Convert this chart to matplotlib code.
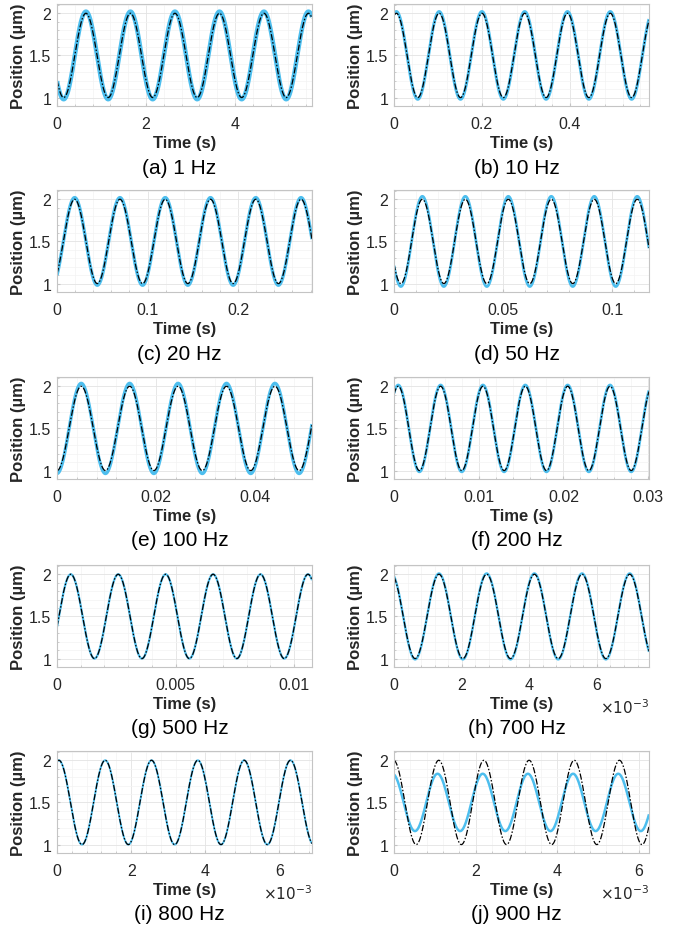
import numpy as np
import matplotlib
matplotlib.use("Agg")
import matplotlib.pyplot as plt
from matplotlib.ticker import FixedLocator, AutoMinorLocator, FuncFormatter

plt.rcParams['font.family'] = ['Liberation Sans', 'DejaVu Sans']

# panel captions and readings from the picture
captions = ['(a) 1 Hz', '(b) 10 Hz', '(c) 20 Hz', '(d) 50 Hz', '(e) 100 Hz',
            '(f) 200 Hz', '(g) 500 Hz', '(h) 700 Hz', '(i) 800 Hz', '(j) 900 Hz']
periods = [1.0, 0.0973, 0.05, 0.0197, 0.0098, 0.005, 0.002, 1.41e-3, 1.25e-3, 1.107e-3]
first_peak = [0.65, 0.0054, 0.0195, 0.013, 0.0049, 0.0005, 0.00058, -0.08e-3, 0.05e-3, -0.01e-3]
x_max = [5.73, 0.58, 0.2816, 0.1169, 0.0516, 0.0301, 0.01075, 7.54e-3, 6.88e-3, 6.25e-3]
x_ticks = [[0, 2, 4], [0, 0.2, 0.4], [0, 0.1, 0.2], [0, 0.05, 0.1], [0, 0.02, 0.04],
           [0, 0.01, 0.02, 0.03], [0, 0.005, 0.01],
           [0, 2e-3, 4e-3, 6e-3], [0, 2e-3, 4e-3, 6e-3], [0, 2e-3, 4e-3, 6e-3]]
sci_axis = [False] * 7 + [True] * 3

# commanded position: 1..2 um; measured amplitude and phase shift (s)
ref_mean, ref_amp = 1.5, 0.5
meas_amp = [0.52, 0.52, 0.52, 0.535, 0.535, 0.515, 0.5, 0.51, 0.5, 0.34]
meas_shift = [0, 0, 0, 0, 0, 0, 0, 0, 0, -0.03e-3]
meas_lw = [3.2, 2.2, 2.4, 2.0, 2.4, 2.0, 1.6, 1.7, 1.4, 1.8]

blue = '#4DBEEE'
fig = plt.figure(figsize=(6.88, 9.29), dpi=100)
W, H = 688, 929
lefts = [57, 394]
tops = [5, 191, 378, 566, 752]
aw, ah = 255, 102

for k in range(10):
    r, c = divmod(k, 2)
    ax = fig.add_axes([lefts[c] / W, 1 - (tops[r] + ah) / H, aw / W, ah / H])
    t = np.linspace(0, x_max[k], 1500)
    ref = ref_mean + ref_amp * np.cos(2 * np.pi * (t - first_peak[k]) / periods[k])
    meas = ref_mean + meas_amp[k] * np.cos(2 * np.pi * (t - first_peak[k] - meas_shift[k]) / periods[k])
    ax.plot(t, meas, color=blue, lw=meas_lw[k], solid_capstyle='butt')
    ax.plot(t, ref, color='black', lw=0.9, linestyle=(0, (5, 1.5, 1.2, 1.5)))
    ax.set_xlim(0, x_max[k])
    ax.set_ylim(0.9, 2.11)
    ax.yaxis.set_major_locator(FixedLocator([1, 1.5, 2]))
    ax.yaxis.set_major_formatter(FuncFormatter(lambda v, p: '%g' % v))
    ax.xaxis.set_major_locator(FixedLocator(x_ticks[k]))
    ax.xaxis.set_minor_locator(AutoMinorLocator(5))
    ax.yaxis.set_minor_locator(AutoMinorLocator(5))
    if sci_axis[k]:
        ax.xaxis.set_major_formatter(FuncFormatter(lambda v, p: '%g' % round(v * 1e3, 6)))
        ax.text(1.0, -0.39, r'$\times10^{-3}$', transform=ax.transAxes, ha='right',
                va='center', fontsize=11, color='#262626')
    else:
        ax.xaxis.set_major_formatter(FuncFormatter(lambda v, p: '%g' % v))
    ax.grid(True, which='major', color='#e3e3e3', lw=0.6)
    ax.grid(True, which='minor', color='#f3f3f3', lw=0.5)
    ax.set_axisbelow(True)
    for s in ax.spines.values():
        s.set_color('#c4c4c4')
        s.set_linewidth(0.8)
    ax.tick_params(which='both', direction='in', colors='#c4c4c4', labelcolor='#262626',
                   labelsize=11.5, length=2.5)
    ax.tick_params(axis='x', pad=7)
    ax.tick_params(axis='y', pad=4)
    ax.tick_params(which='minor', length=1.2)
    ax.set_xlabel('Time (s)', fontsize=12, fontweight='bold', color='#262626', labelpad=3)
    ax.set_ylabel('Position (\u00b5m)', fontsize=12, fontweight='bold', color='#262626', labelpad=2)
    cx = (lefts[c] + aw / 2 - 5) / W
    fig.text(cx, 1 - (tops[r] + ah + 61) / H, captions[k], ha='center', va='center',
             fontsize=15, color='black')

fig.savefig('out.png', dpi=100)
